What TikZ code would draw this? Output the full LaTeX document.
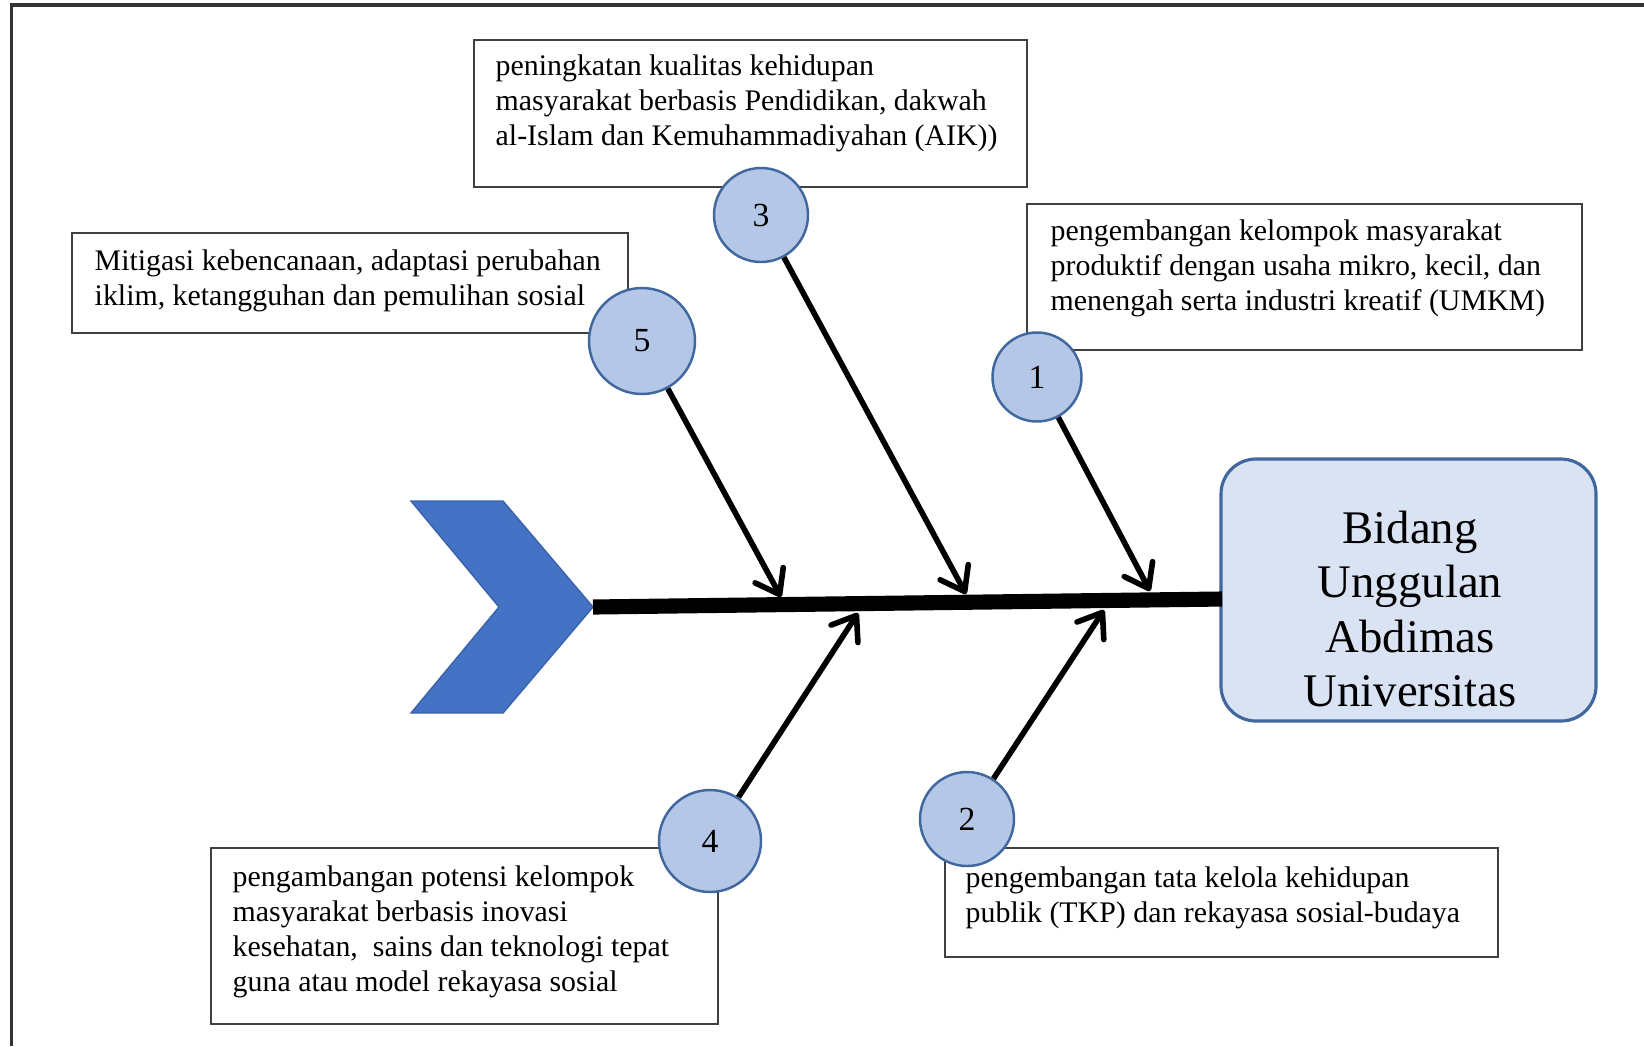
\documentclass[tikz,border=0pt]{standalone}
\usepackage{fontspec}
\setmainfont{Liberation Serif}
\usetikzlibrary{positioning, arrows.meta}

\definecolor{numfill}{HTML}{B4C7E7}
\definecolor{numline}{HTML}{41689E}
\definecolor{headfill}{HTML}{DAE3F3}
\definecolor{chevfill}{HTML}{4472C4}
\definecolor{chevline}{HTML}{3A62A8}

\begin{document}
\begin{tikzpicture}[x=0.1mm, y=-0.1mm,
		bone/.style = {draw=black, line width=1.6pt,
			-{Straight Barb[length=2.2mm, width=3.2mm, round]}},
		nmbr/.style = {circle, draw=numline, line width=0.7pt, fill=numfill,
			minimum size=#1, inner sep=0pt, font=\fontsize{9.6}{10}\selectfont},
		lbox/.style args = {#1/#2}{draw=black!75, line width=0.6pt,
			minimum width=#1, minimum height=#2, anchor=north west, inner sep=0pt},
		ltxt/.style = {anchor=north west, align=left, inner sep=0pt,
			font=\fontsize{8.5}{10}\selectfont}
                    ]
		\useasboundingbox (0,0) rectangle (1644,1046);
		\draw[black!80, line width=0.9pt] (11.5,1046) |- (1644,5);

		\node(B3) [lbox=55.3mm/14.7mm] at (473,39) {};
		\node(B1) [lbox=55.5mm/14.6mm] at (1026,203) {};
		\node(B5) [lbox=55.6mm/10mm] at (71,232) {};
		\node(B4) [lbox=50.7mm/17.6mm] at (210,847) {};
		\node(B2) [lbox=55.3mm/10.9mm] at (944,847) {};

		\node(T3) [ltxt] at (495,54) {peningkatan kualitas kehidupan\\
			masyarakat berbasis Pendidikan, dakwah\\
			al-Islam dan Kemuhammadiyahan (AIK))};
		\node(T1) [ltxt] at (1050,219) {pengembangan kelompok masyarakat\\
			produktif dengan usaha mikro, kecil, dan\\
			menengah serta industri kreatif (UMKM)};
		\node(T5) [ltxt] at (94,249) {Mitigasi kebencanaan, adaptasi perubahan\\
			iklim, ketangguhan dan pemulihan sosial};
		\node(T4) [ltxt] at (232,865) {pengambangan potensi kelompok\\
			masyarakat berbasis inovasi\\
			kesehatan,\ \ sains dan teknologi tepat\\
			guna atau model rekayasa sosial};
		\node(T2) [ltxt] at (965,866) {pengembangan tata kelola kehidupan\\
			publik (TKP) dan rekayasa sosial-budaya};

		\node(H) [draw=numline, line width=0.9pt, fill=headfill, rounded corners=3.5mm,
			minimum width=37.5mm, minimum height=26.2mm] at (1408.5,590) {};
		\node(HT) [align=center, inner sep=0pt, font=\fontsize{13.3}{15.5}\selectfont]
			at (1410,609) {Bidang\\ Unggulan\\ Abdimas\\ Universitas};

		\draw[fill=chevfill, draw=chevline, line width=0.4pt]
			(411,501) -- (503,501) -- (593,607) -- (503,713) -- (411,713) -- (499,607) -- cycle;
		\coordinate(tail) at (593,607);
		\coordinate(mouth) at (1222,599);
		\draw[line width=4.3pt] (tail) -- (mouth);

		\coordinate(p5) at (781,597);
		\coordinate(p3) at (966,594);
		\coordinate(p1) at (1150,591);
		\coordinate(p4) at (858,613);
		\coordinate(p2) at (1104,610);

		\node(C3) [nmbr=9.4mm] at (761,215) {3};
		\node(C1) [nmbr=8.9mm] at (1037,377) {1};
		\node(C5) [nmbr=10.6mm] at (642,341) {5};
		\node(C4) [nmbr=10.2mm] at (710,841) {4};
		\node(C2) [nmbr=9.4mm] at (967,819) {2};

		\path[bone] (C5) edge (p5)
				(C3) edge (p3)
				(C1) edge (p1)
				(C4) edge (p4)
				(C2) edge (p2);
	\end{tikzpicture}
\end{document}
